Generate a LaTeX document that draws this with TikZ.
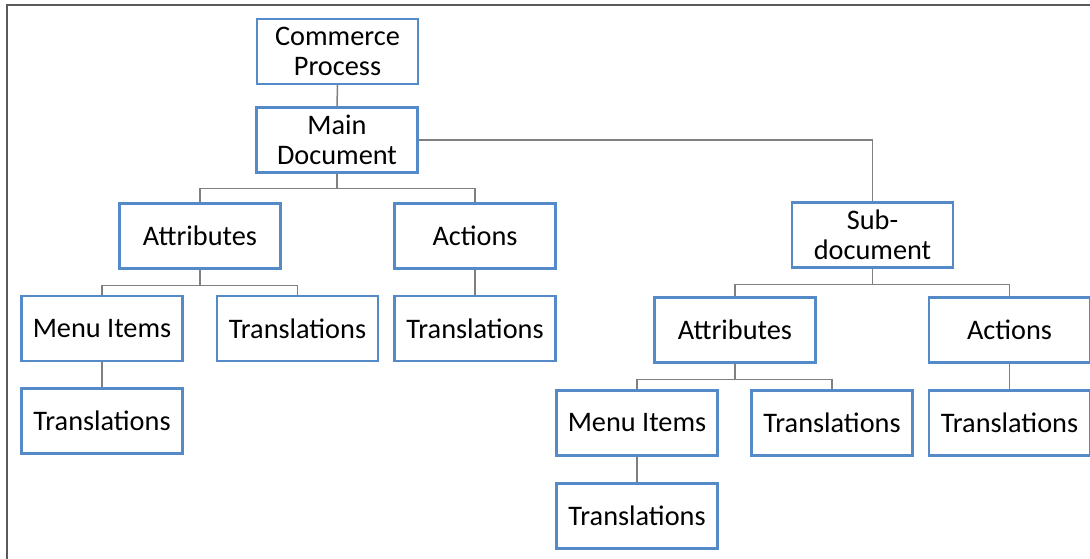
\documentclass[tikz,border=0pt]{standalone}
\usepackage{fontspec}
\setmainfont{Carlito}
\definecolor{boxblue}{RGB}{84,138,200}
\definecolor{linegray}{RGB}{128,128,128}
\definecolor{framegray}{RGB}{90,90,90}
\begin{document}
\begin{tikzpicture}[x=1pt,y=-1pt,
  box/.style={draw=boxblue,line width=2.4pt,fill=white,minimum width=161pt,minimum height=65pt,
    inner sep=0pt,align=center,font=\fontsize{28.3}{30.5}\selectfont},
  conn/.style={draw=linegray,line width=1.5pt}]
\useasboundingbox (0,0) rectangle (1090,559);
\draw[framegray,line width=2pt] (7,560) -- (7,5.5) -- (1091,5.5);
% nodes
\node[box] (cp) at (337.5,51.5) {Commerce\\Process};
\node[box] (md) at (337,140) {Main\\Document};
\node[box] (la) at (200,236) {Attributes};
\node[box] (lac) at (475,236) {Actions};
\node[box] (lmi) at (102,328.5) {Menu Items};
\node[box] (lt1) at (297.5,328.5) {Translations};
\node[box] (lt2) at (475,328.5) {Translations};
\node[box] (lt3) at (102,421) {Translations};
\node[box] (sd) at (872.5,235) {Sub-\\document};
\node[box] (ra) at (735,330) {Attributes};
\node[box] (rac) at (1009.5,330) {Actions};
\node[box] (rmi) at (637,423) {Menu Items};
\node[box] (rt1) at (832,423) {Translations};
\node[box] (rt2) at (1009.5,423) {Translations};
\node[box] (rt3) at (637,516) {Translations};
% connectors
\draw[conn] (cp.south) -- (md.north);
\draw[conn] (md.south) -- ++(0,15) -| (la.north);
\draw[conn] (md.south) -- ++(0,15) -| (lac.north);
\draw[conn] (md.east) -| (sd.north);
\draw[conn] (la.south) -- ++(0,16) -| (lmi.north);
\draw[conn] (la.south) -- ++(0,16) -| (lt1.north);
\draw[conn] (lac.south) -- (lt2.north);
\draw[conn] (lmi.south) -- (lt3.north);
\draw[conn] (sd.south) -- ++(0,16) -| (ra.north);
\draw[conn] (sd.south) -- ++(0,16) -| (rac.north);
\draw[conn] (ra.south) -- ++(0,16) -| (rmi.north);
\draw[conn] (ra.south) -- ++(0,16) -| (rt1.north);
\draw[conn] (rac.south) -- (rt2.north);
\draw[conn] (rmi.south) -- (rt3.north);
\end{tikzpicture}
\end{document}
